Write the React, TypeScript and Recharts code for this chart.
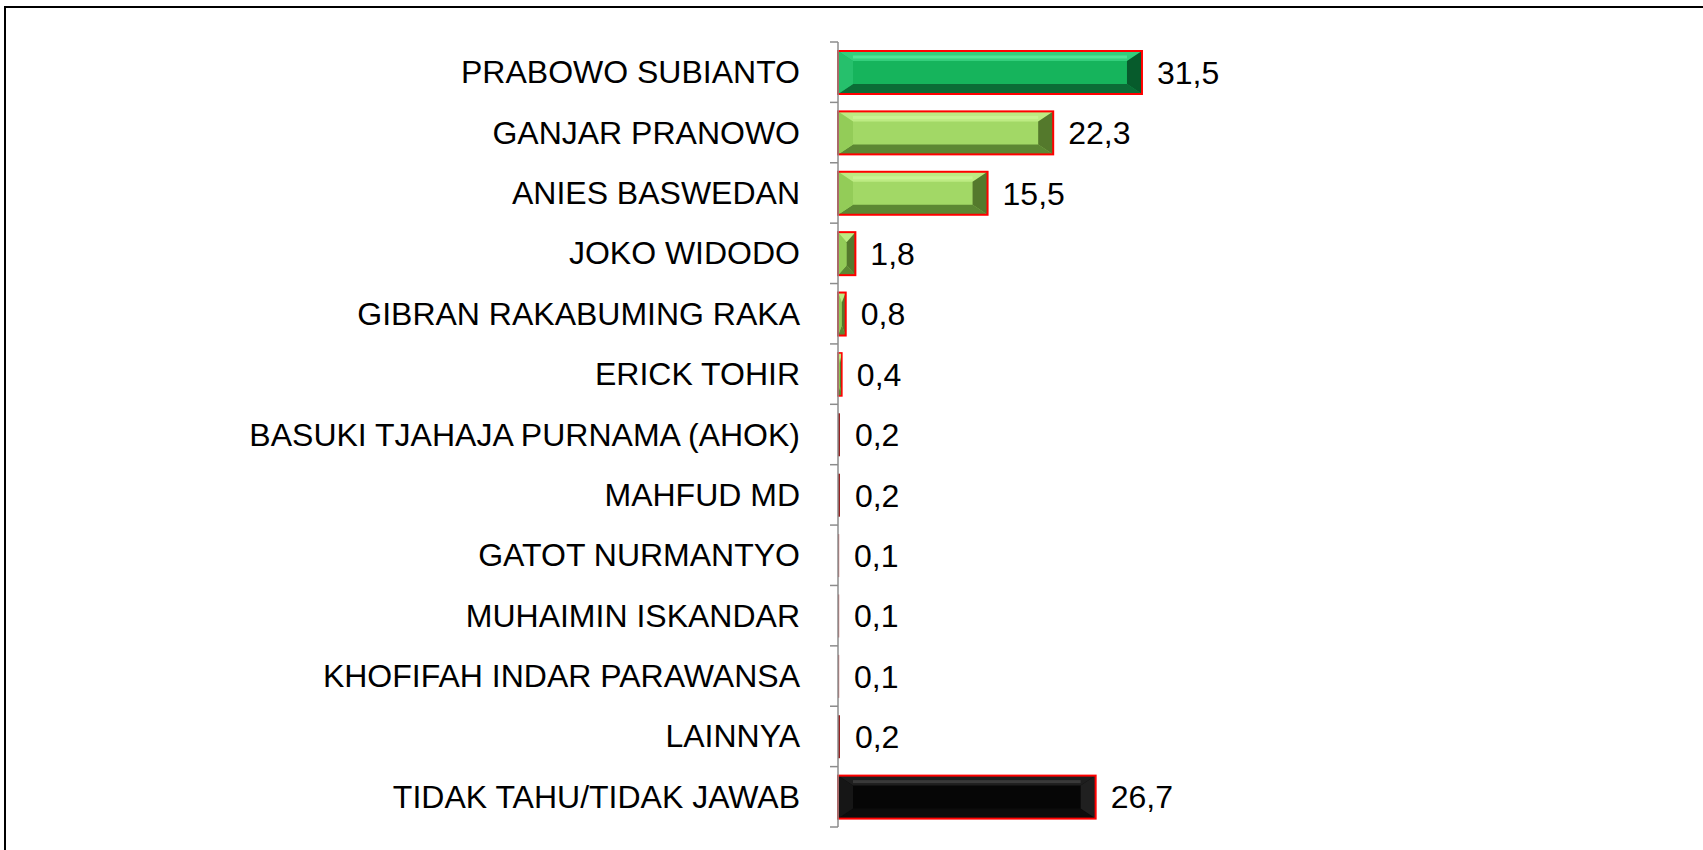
import React from "react";
import { BarChart, Bar, XAxis, YAxis, LabelList } from "recharts";

const categories: string[] = [
  "PRABOWO SUBIANTO",
  "GANJAR PRANOWO",
  "ANIES BASWEDAN",
  "JOKO WIDODO",
  "GIBRAN RAKABUMING RAKA",
  "ERICK TOHIR",
  "BASUKI TJAHAJA PURNAMA (AHOK)",
  "MAHFUD MD",
  "GATOT NURMANTYO",
  "MUHAIMIN ISKANDAR",
  "KHOFIFAH INDAR PARAWANSA",
  "LAINNYA",
  "TIDAK TAHU/TIDAK JAWAB",
];

const values: number[] = [31.5, 22.3, 15.5, 1.8, 0.8, 0.4, 0.2, 0.2, 0.1, 0.1, 0.1, 0.2, 26.7];

const data = categories.map((name, i) => ({ name, value: values[i] }));

const W = 1703;
const H = 850;
const TOP = 42;
const BOTTOM = 23;
const AXIS_X = 838;
const FONT = "'Liberation Sans', Arial, Helvetica, sans-serif";
const FS = 32;
const BAND = (H - TOP - BOTTOM) / categories.length;

type Pal = { base: string; top: string; hi: string; bottom: string; left: string; right: string };
const GREEN: Pal = { base: "#16B45C", top: "#34CF7C", hi: "#5EEBA2", bottom: "#0B6C36", left: "#26C06C", right: "#075B2C" };
const LIME: Pal = { base: "#A2D866", top: "#BDEB83", hi: "#CFF79A", bottom: "#5C8733", left: "#93CC58", right: "#54792C" };
const BLACK: Pal = { base: "#060606", top: "#1E1E1E", hi: "#444444", bottom: "#0C0C0C", left: "#161616", right: "#202020" };

const palFor = (i: number) => (i === 0 ? GREEN : i === categories.length - 1 ? BLACK : LIME);

const BevelBar = (props: any) => {
  const { x, y, width, height, index } = props;
  if (!width || width <= 0) return null;
  if (width < 2.5) {
    const dark = width > 1.5;
    return (
      <rect x={x} y={y} width={Math.max(width, 1.2)} height={height} fill={dark ? "#8E1414" : "#C86060"} />
    );
  }
  const p = palFor(index);
  const bx = Math.min(15, width / 2);
  const by = Math.min(10, height / 2);
  const x2 = x + width;
  const y2 = y + height;
  const sw = Math.min(2, Math.max(0.8, width * 0.4));
  return (
    <g>
      <rect x={x} y={y} width={width} height={height} fill={p.base} />
      <polygon points={`${x},${y} ${x2},${y} ${x2 - bx},${y + by} ${x + bx},${y + by}`} fill={p.top} />
      <rect x={x + bx} y={y + by * 0.45} width={Math.max(0, width - 2 * bx)} height={by * 0.3} fill={p.hi} opacity={0.7} />
      <polygon points={`${x},${y2} ${x2},${y2} ${x2 - bx},${y2 - by} ${x + bx},${y2 - by}`} fill={p.bottom} />
      <polygon points={`${x},${y} ${x + bx},${y + by} ${x + bx},${y2 - by} ${x},${y2}`} fill={p.left} />
      <polygon points={`${x2},${y} ${x2 - bx},${y + by} ${x2 - bx},${y2 - by} ${x2},${y2}`} fill={p.right} />
      <rect x={x} y={y} width={width} height={height} fill="none" stroke="#FF0000" strokeWidth={sw} />
    </g>
  );
};

const CatTick = (props: any) => {
  const { x, y, payload, index } = props;
  const last = index === categories.length - 1;
  return (
    <g>
      <line x1={AXIS_X - 8} x2={AXIS_X} y1={y - BAND / 2} y2={y - BAND / 2} stroke="#8C8C8C" strokeWidth={1.5} />
      {last && (
        <line x1={AXIS_X - 8} x2={AXIS_X} y1={y + BAND / 2} y2={y + BAND / 2} stroke="#8C8C8C" strokeWidth={1.5} />
      )}
      <text x={x} y={y} textAnchor="end" dominantBaseline="central" fontSize={FS} fontFamily={FONT} fill="#000">
        {payload.value}
      </text>
    </g>
  );
};

export default function App() {
  return (
    <div style={{ position: "absolute", left: 0, top: 0, width: W, height: H, background: "#fff", overflow: "hidden" }}>
      <div
        style={{
          position: "absolute",
          left: 4,
          top: 6,
          width: W,
          height: H,
          borderLeft: "2.5px solid #000",
          borderTop: "2.5px solid #000",
          boxSizing: "border-box",
        }}
      />
      <div style={{ position: "absolute", left: 0, top: 0 }}>
        <BarChart
          width={W}
          height={H}
          data={data}
          layout="vertical"
          margin={{ top: TOP, bottom: BOTTOM, left: 0, right: W - AXIS_X - 772 }}
          barSize={43}
        >
          <XAxis type="number" domain={[0, 80]} hide />
          <YAxis
            type="category"
            dataKey="name"
            width={AXIS_X}
            axisLine={{ stroke: "#8C8C8C", strokeWidth: 1.5 }}
            tickLine={false}
            tickSize={8}
            tickMargin={30}
            tick={<CatTick />}
            interval={0}
          />
          <Bar dataKey="value" shape={<BevelBar />} isAnimationActive={false}>
            <LabelList
              dataKey="value"
              position="right"
              offset={15}
              formatter={(v: any) => String(v).replace(".", ",")}
              style={{ fontSize: FS, fontFamily: FONT, fill: "#000" }}
            />
          </Bar>
        </BarChart>
      </div>
    </div>
  );
}
